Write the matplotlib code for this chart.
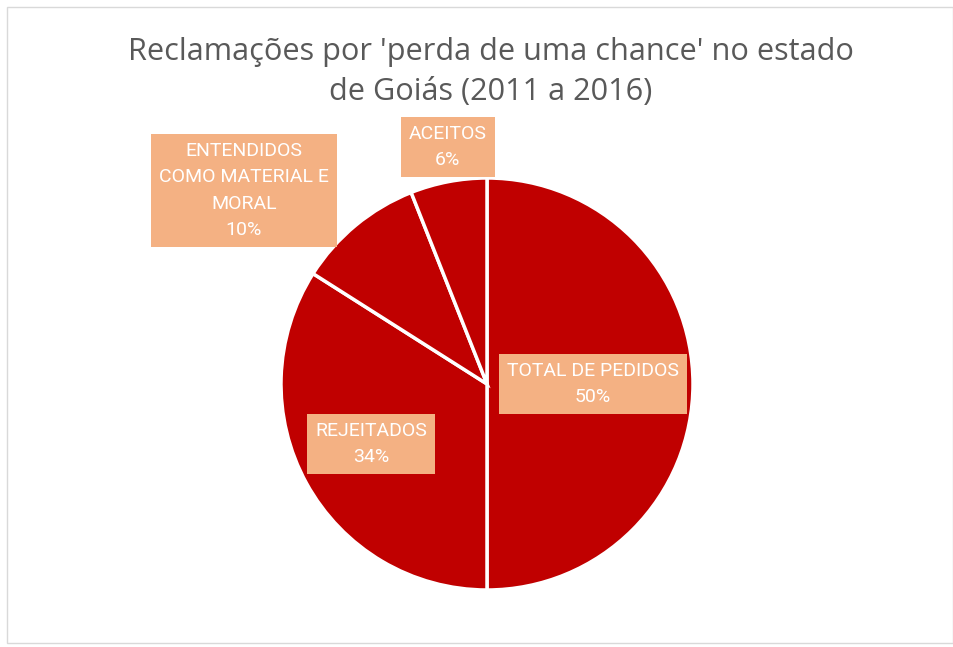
import matplotlib
matplotlib.use("Agg")
import matplotlib.pyplot as plt
from matplotlib.patches import Rectangle
import numpy as np

# ---- data ----
categories = ["TOTAL DE PEDIDOS", "REJEITADOS", "ENTENDIDOS\nCOMO MATERIAL E\nMORAL", "ACEITOS"]
values = [50, 34, 10, 6]
title = "Reclamações por 'perda de uma chance' no estado\nde Goiás (2011 a 2016)"

# ---- layout / style ----
W, H = 954, 647
slice_color = "#C00000"
box_color = "#F4B183"
title_color = "#595959"
label_font = ["Roboto", "DejaVu Sans"]
title_font = ["Open Sans", "DejaVu Sans"]
# label centres in pie-radius units (x, y)
label_pos = [(0.515, 0.0), (-0.563, -0.29), (-1.18, 0.94), (-0.19, 1.15)]

fig = plt.figure(figsize=(W / 100, H / 100), dpi=100)
fig.patch.set_facecolor("white")

# outer chart border
fig.add_artist(Rectangle((7 / W, 4 / H), (W - 8) / W, (H - 11) / H,
                         transform=fig.transFigure, fill=False,
                         edgecolor="#D9D9D9", linewidth=1))

cx, cy, r = 487, 384, 206
ax = fig.add_axes([(cx - r) / W, (H - cy - r) / H, 2 * r / W, 2 * r / H])

wedges, _ = ax.pie(values, startangle=90, counterclock=False,
                   colors=[slice_color] * len(values), radius=1,
                   wedgeprops=dict(edgecolor="white", linewidth=2.5))
ax.set_xlim(-1, 1)
ax.set_ylim(-1, 1)
ax.set_aspect("equal")
ax.axis("off")
for w in wedges:
    w.set_clip_on(False)

total = sum(values)
for cat, v, (lx, ly) in zip(categories, values, label_pos):
    txt = f"{cat}\n{round(100 * v / total)}%"
    ax.text(lx, ly, txt, ha="center", va="center", color="white",
            fontsize=14, family=label_font, linespacing=1.6,
            bbox=dict(boxstyle="square,pad=0.4", facecolor=box_color,
                      edgecolor="none"), clip_on=False, zorder=5)

fig.text(491 / W, 1 - 72 / H, title, ha="center", va="center",
         color=title_color, fontsize=22.1, family=title_font,
         linespacing=1.42)

fig.savefig("out.png", dpi=100, facecolor="white")
